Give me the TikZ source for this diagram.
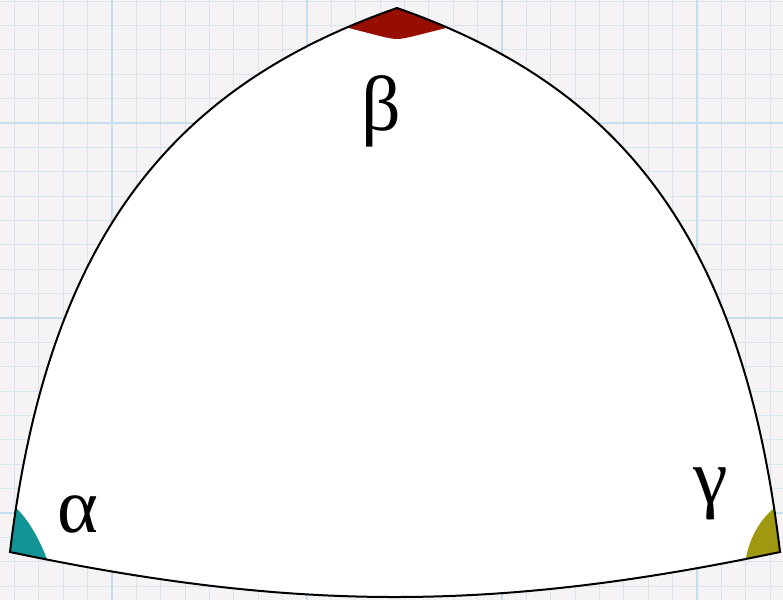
\documentclass[tikz,border=0pt]{standalone}
\usepackage{fontspec}
\setmainfont{Liberation Serif}
\definecolor{bgc}{RGB}{245,243,243}
\definecolor{minorc}{RGB}{214,230,240}
\definecolor{majorc}{RGB}{196,222,238}
\definecolor{tealc}{RGB}{18,148,150}
\definecolor{redc}{RGB}{150,14,0}
\definecolor{olivec}{RGB}{160,152,16}
\tikzset{
  minorgrid/.style={draw=minorc, line width=1pt},
  majorgrid/.style={draw=majorc, line width=2pt},
  tripath/.style={insert path={(10,552) .. controls (48,232) and (177,85) .. (397,8)
     .. controls (617,85) and (742,232) .. (780,552)
     .. controls (495,612) and (295,612) .. (10,552) -- cycle}},
  edge/.style={draw=black, line width=2pt, line join=miter},
  greek/.style={inner sep=0pt, font=\fontsize{78}{82}\selectfont}
}
\begin{document}
\begin{tikzpicture}[x=1pt,y=-1pt]
\useasboundingbox (0,0) rectangle (783,600);
\fill[bgc] (0,0) rectangle (783,600);
\foreach \i in {-5,...,28} {
  \draw[minorgrid] ({112+\i*24.375},0) -- ({112+\i*24.375},600);
}
\foreach \i in {-6,...,20} {
  \draw[minorgrid] (0,{123+\i*24.375}) -- (783,{123+\i*24.375});
}
\foreach \x in {112,307,502,697} { \draw[majorgrid] (\x,0) -- (\x,600); }
\foreach \y in {123,318,513} { \draw[majorgrid] (0,\y) -- (783,\y); }
\path[fill=white, tripath];
\begin{scope}
  \path[clip, tripath];
  \fill[tealc] (11,500) -- (14,506) .. controls (30,520) and (42,545) .. (48,562) -- (48,600) -- (0,600) -- (0,500) -- cycle;
  \fill[redc] (335,24) -- (345,27) .. controls (380,36) and (390,39) .. (397,39) .. controls (404,39) and (414,36) .. (450,27) -- (460,24) -- (460,0) -- (335,0) -- cycle;
  \fill[olivec] (778,500) -- (777,506) .. controls (760,518) and (748,540) .. (745,564) -- (745,600) -- (783,600) -- (783,500) -- cycle;
\end{scope}
\path[edge, tripath];
\node[greek] (alpha) at (77.5,514) {α};
\node[greek] (beta) at (381,111) {β};
\node[greek] (gamma) at (711,494) {γ};
\end{tikzpicture}
\end{document}
